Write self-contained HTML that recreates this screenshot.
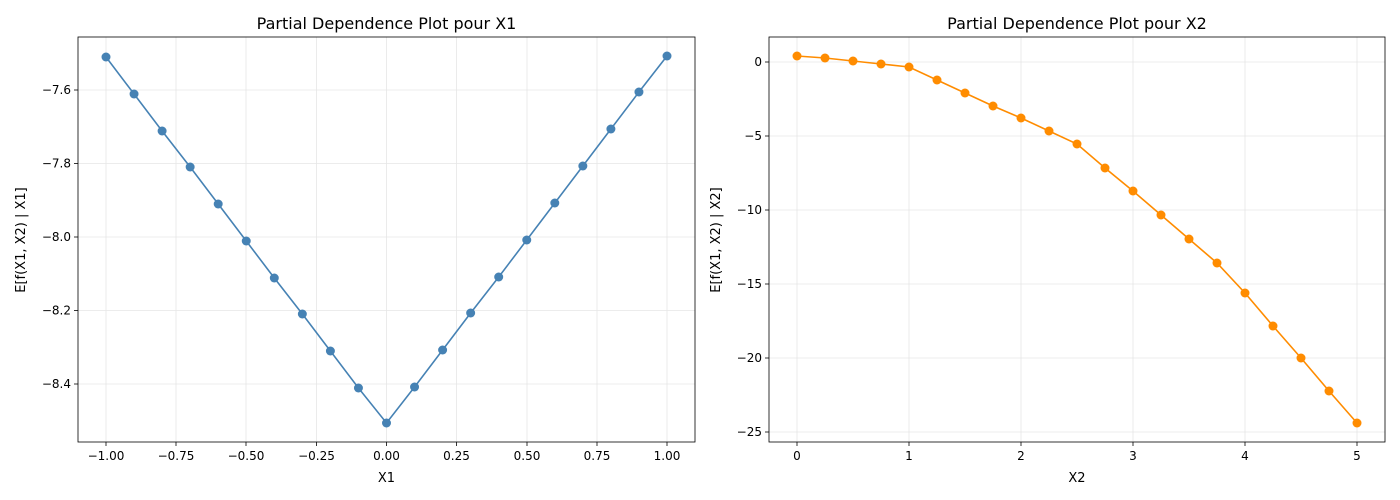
<!DOCTYPE html>
<html><head><meta charset="utf-8"><style>body{margin:0;background:#fff}svg{display:block}text{font-family:"DejaVu Sans","Liberation Sans",sans-serif;fill:#000}</style></head><body>
<svg width="1400" height="500" xmlns="http://www.w3.org/2000/svg">
<rect width="1400" height="500" fill="#fff"/>
<!-- Left -->
<g stroke="#e6e6e6" stroke-width="0.8">
<line x1="106" y1="37" x2="106" y2="442"/><line x1="176" y1="37" x2="176" y2="442"/><line x1="246" y1="37" x2="246" y2="442"/><line x1="316.5" y1="37" x2="316.5" y2="442"/><line x1="386.5" y1="37" x2="386.5" y2="442"/><line x1="456.5" y1="37" x2="456.5" y2="442"/><line x1="527" y1="37" x2="527" y2="442"/><line x1="597" y1="37" x2="597" y2="442"/><line x1="667" y1="37" x2="667" y2="442"/>
<line x1="78" y1="90" x2="695" y2="90"/><line x1="78" y1="163.5" x2="695" y2="163.5"/><line x1="78" y1="237" x2="695" y2="237"/><line x1="78" y1="310.5" x2="695" y2="310.5"/><line x1="78" y1="384" x2="695" y2="384"/>
</g>
<rect x="78" y="37" width="617" height="405" fill="none" stroke="#000" stroke-width="0.8"/>
<g stroke="#000" stroke-width="0.8">
<line x1="106" y1="442" x2="106" y2="446"/><line x1="176" y1="442" x2="176" y2="446"/><line x1="246" y1="442" x2="246" y2="446"/><line x1="316.5" y1="442" x2="316.5" y2="446"/><line x1="386.5" y1="442" x2="386.5" y2="446"/><line x1="456.5" y1="442" x2="456.5" y2="446"/><line x1="527" y1="442" x2="527" y2="446"/><line x1="597" y1="442" x2="597" y2="446"/><line x1="667" y1="442" x2="667" y2="446"/>
<line x1="74" y1="90" x2="78" y2="90"/><line x1="74" y1="163.5" x2="78" y2="163.5"/><line x1="74" y1="237" x2="78" y2="237"/><line x1="74" y1="310.5" x2="78" y2="310.5"/><line x1="74" y1="384" x2="78" y2="384"/>
</g>
<g font-size="12" text-anchor="middle">
<text x="106" y="460">−1.00</text><text x="176" y="460">−0.75</text><text x="246" y="460">−0.50</text><text x="316.5" y="460">−0.25</text><text x="386.5" y="460">0.00</text><text x="456.5" y="460">0.25</text><text x="527" y="460">0.50</text><text x="597" y="460">0.75</text><text x="667" y="460">1.00</text>
</g>
<g font-size="12" text-anchor="end">
<text x="71" y="94">−7.6</text><text x="71" y="167.5">−7.8</text><text x="71" y="241">−8.0</text><text x="71" y="314.5">−8.2</text><text x="71" y="388">−8.4</text>
</g>
<text x="386.5" y="482" font-size="13" text-anchor="middle">X1</text>
<text transform="translate(25,240) rotate(-90)" font-size="13" text-anchor="middle">E[f(X1, X2) | X1]</text>
<text x="386.5" y="29" font-size="16" text-anchor="middle">Partial Dependence Plot pour X1</text>
<g id="l"></g>
<!-- Right -->
<g stroke="#e6e6e6" stroke-width="0.8">
<line x1="797" y1="37" x2="797" y2="442"/><line x1="909" y1="37" x2="909" y2="442"/><line x1="1021" y1="37" x2="1021" y2="442"/><line x1="1133" y1="37" x2="1133" y2="442"/><line x1="1245" y1="37" x2="1245" y2="442"/><line x1="1357" y1="37" x2="1357" y2="442"/>
<line x1="769" y1="62" x2="1385" y2="62"/><line x1="769" y1="136" x2="1385" y2="136"/><line x1="769" y1="210" x2="1385" y2="210"/><line x1="769" y1="284" x2="1385" y2="284"/><line x1="769" y1="358" x2="1385" y2="358"/><line x1="769" y1="432" x2="1385" y2="432"/>
</g>
<rect x="769" y="37" width="616" height="405" fill="none" stroke="#000" stroke-width="0.8"/>
<g stroke="#000" stroke-width="0.8">
<line x1="797" y1="442" x2="797" y2="446"/><line x1="909" y1="442" x2="909" y2="446"/><line x1="1021" y1="442" x2="1021" y2="446"/><line x1="1133" y1="442" x2="1133" y2="446"/><line x1="1245" y1="442" x2="1245" y2="446"/><line x1="1357" y1="442" x2="1357" y2="446"/>
<line x1="765" y1="62" x2="769" y2="62"/><line x1="765" y1="136" x2="769" y2="136"/><line x1="765" y1="210" x2="769" y2="210"/><line x1="765" y1="284" x2="769" y2="284"/><line x1="765" y1="358" x2="769" y2="358"/><line x1="765" y1="432" x2="769" y2="432"/>
</g>
<g font-size="12" text-anchor="middle">
<text x="797" y="460">0</text><text x="909" y="460">1</text><text x="1021" y="460">2</text><text x="1133" y="460">3</text><text x="1245" y="460">4</text><text x="1357" y="460">5</text>
</g>
<g font-size="12" text-anchor="end">
<text x="762" y="66">0</text><text x="762" y="140">−5</text><text x="762" y="214">−10</text><text x="762" y="288">−15</text><text x="762" y="362">−20</text><text x="762" y="436">−25</text>
</g>
<text x="1077" y="482" font-size="13" text-anchor="middle">X2</text>
<text transform="translate(720,240) rotate(-90)" font-size="13" text-anchor="middle">E[f(X1, X2) | X2]</text>
<text x="1077" y="29" font-size="16" text-anchor="middle">Partial Dependence Plot pour X2</text>
<g id="r"></g>
</svg>
<script>
var ns="http://www.w3.org/2000/svg";
function draw(id,xs,ys,c){var g=document.getElementById(id),p="";for(var i=0;i<xs.length;i++)p+=(i?"L":"M")+xs[i]+","+ys[i];var pa=document.createElementNS(ns,"path");pa.setAttribute("d",p);pa.setAttribute("fill","none");pa.setAttribute("stroke",c);pa.setAttribute("stroke-width","1.6");g.appendChild(pa);for(i=0;i<xs.length;i++){var ci=document.createElementNS(ns,"circle");ci.setAttribute("cx",xs[i]);ci.setAttribute("cy",ys[i]);ci.setAttribute("r","4.5");ci.setAttribute("fill",c);g.appendChild(ci);}}
var lx=[],ly=[57,94,131,167,204,241,278,314,351,388,423,387,350,313,277,240,203,166,129,92,56];
for(var i=0;i<21;i++)lx.push(106+i*28.05);
draw("l",lx,ly,"#4682b4");
var rx=[],ry=[56,58,61,64,67,80,93,106,118,131,144,168,191,215,239,263,293,326,358,391,423];
for(i=0;i<21;i++)rx.push(797+i*28);
draw("r",rx,ry,"#ff8c00");
</script>
</body></html>
